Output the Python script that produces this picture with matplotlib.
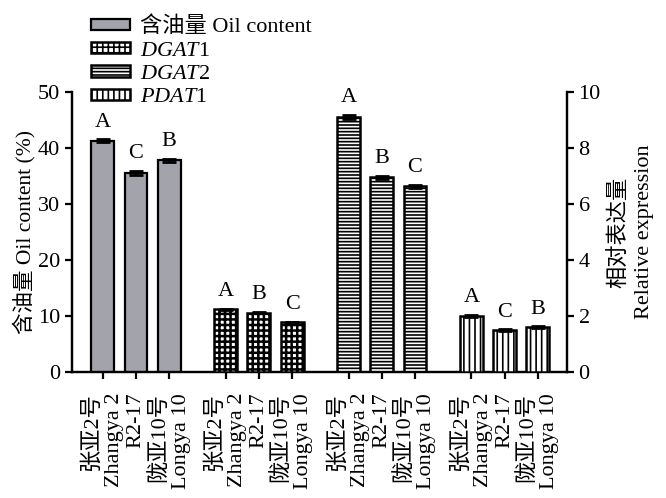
import matplotlib
matplotlib.use("Agg")
import matplotlib.pyplot as plt
import numpy as np

plt.rcParams['font.family'] = ['Liberation Serif', 'Noto Sans CJK SC']
plt.rcParams['mathtext.fontset'] = 'custom'
plt.rcParams['mathtext.rm'] = 'Liberation Serif'
plt.rcParams['mathtext.it'] = 'Liberation Serif:italic'
plt.rcParams['hatch.linewidth'] = 1.2

# data
cultivars = ['张亚2号\nZhangya 2', 'R2-17', '陇亚10号\nLongya 10']
oil = [41.3, 35.5, 37.8]
oil_err = [0.25, 0.35, 0.25]
oil_sig = ['A', 'C', 'B']
dgat1 = [2.24, 2.12, 1.77]
dgat1_err = [0.02, 0.02, 0.02]
dgat1_sig = ['A', 'B', 'C']
dgat2 = [9.12, 6.95, 6.64]
dgat2_err = [0.08, 0.06, 0.05]
dgat2_sig = ['A', 'B', 'C']
pdat1 = [2.0, 1.5, 1.6]
pdat1_err = [0.03, 0.02, 0.03]
pdat1_sig = ['A', 'C', 'B']

legend_labels = ['含油量 Oil content', r'$\mathit{DGAT}$1', r'$\mathit{DGAT}$2', r'$\mathit{PDAT}$1']

fig = plt.figure(figsize=(6.66, 4.98), dpi=100)
ax = fig.add_axes([0.108, 0.253, 0.743, 0.562])
ax2 = ax.twinx()

gap = 3.7
width = 0.69
base = np.arange(3)
pos = [base + i * gap for i in range(4)]

fs = 16
# oil content on left axis
b0 = ax.bar(pos[0], oil, width, color='#a2a3ab', edgecolor='black', linewidth=1.6, zorder=3)
ax.errorbar(pos[0], oil, yerr=oil_err, fmt='none', ecolor='black', capsize=5, elinewidth=1.5, capthick=2, zorder=4)
for x, v, e, s in zip(pos[0], oil, oil_err, oil_sig):
    ax.text(x, v + e + 1.4, s, ha='center', va='bottom', fontsize=fs)

# expression on right axis
genes = [(dgat1, dgat1_err, dgat1_sig, '+++'),
         (dgat2, dgat2_err, dgat2_sig, '-----'),
         (pdat1, pdat1_err, pdat1_sig, '|||')]
handles = [b0]
for i, (vals, errs, sig, hatch) in enumerate(genes):
    p = pos[i + 1]
    if i == 0:
        with plt.rc_context({'hatch.linewidth': 1.8}):
            b = ax2.bar(p, vals, width, color='white', edgecolor='black', hatch=hatch, linewidth=1.8, zorder=3)
    else:
        b = ax2.bar(p, vals, width, color='white', edgecolor='black', hatch=hatch, linewidth=1.8, zorder=3)
    handles.append(b)
    ax2.errorbar(p, vals, yerr=errs, fmt='none', ecolor='black', capsize=5, elinewidth=1.5, capthick=2, zorder=4)
    for x, v, e, s in zip(p, vals, errs, sig):
        ax2.text(x, v + e + 0.28, s, ha='center', va='bottom', fontsize=fs)

ax.set_xlim(-0.93, 3 * gap + 2 + 0.87)
ax.set_ylim(0, 50)
ax2.set_ylim(0, 10)
ax.set_yticks(np.arange(0, 51, 10))
ax2.set_yticks(np.arange(0, 11, 2))

ticks = np.concatenate(pos)
ax.set_xticks(ticks)
ax.set_xticklabels(cultivars * 4, rotation=90, ha='center', va='top',
                   multialignment='right', fontsize=fs)

for a in (ax, ax2):
    a.spines['top'].set_visible(False)
    for sp in ('left', 'right', 'bottom'):
        a.spines[sp].set_linewidth(1.6)
    a.tick_params(width=1.6, length=5, labelsize=fs, direction='out')
ax.tick_params(axis='x', pad=10)

ax.set_ylabel('含油量 Oil content (%)', fontsize=15.5, labelpad=2)
ax2.set_ylabel('相对表达量\nRelative expression', fontsize=fs, labelpad=6, linespacing=1.35)

fig.legend(handles, legend_labels, loc='upper left', bbox_to_anchor=(0.124, 0.985),
           frameon=False, fontsize=fs, handlelength=1.75, handleheight=0.4,
           labelspacing=0.2, handletextpad=0.45, borderaxespad=0)

fig.savefig('out.png', dpi=100)
